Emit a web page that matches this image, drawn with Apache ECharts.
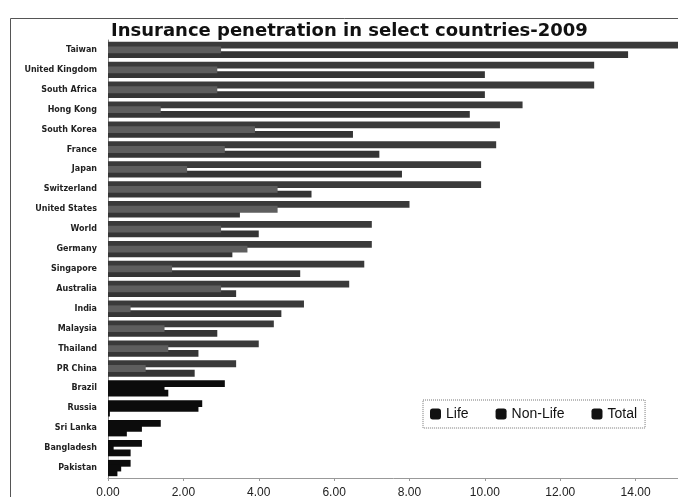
<!DOCTYPE html>
<html>
<head>
<meta charset="utf-8">
<script src="https://cdn.jsdelivr.net/npm/echarts@6/dist/echarts.min.js"></script>
<style>
  html, body { margin: 0; padding: 0; background: #fff; }
  #chart { width: 678px; height: 497px; }
</style>
</head>
<body>
<div id="chart"></div>
<script>
// Insurance penetration (premiums as % of GDP), 2009
const countries = [
  'Taiwan', 'United Kingdom', 'South Africa', 'Hong Kong', 'South Korea',
  'France', 'Japan', 'Switzerland', 'United States', 'World', 'Germany',
  'Singapore', 'Australia', 'India', 'Malaysia', 'Thailand', 'PR China',
  'Brazil', 'Russia', 'Sri Lanka', 'Bangladesh', 'Pakistan'
];
const lifeValues = [
  13.8, 10.0, 10.0, 9.6, 6.5, 7.2, 7.8, 5.4, 3.5, 4.0, 3.3,
  5.1, 3.4, 4.6, 2.9, 2.4, 2.3, 1.6, 0.05, 0.5, 0.6, 0.25
];
const nonLifeValues = [
  3.0, 2.9, 2.9, 1.4, 3.9, 3.1, 2.1, 4.5, 4.5, 3.0, 3.7,
  1.7, 3.0, 0.6, 1.5, 1.6, 1.0, 1.5, 2.4, 0.9, 0.15, 0.35
];
const totalValues = [
  16.8, 12.9, 12.9, 11.0, 10.4, 10.3, 9.9, 9.9, 8.0, 7.0, 7.0,
  6.8, 6.4, 5.2, 4.4, 4.0, 3.4, 3.1, 2.5, 1.4, 0.9, 0.6
];
const xTicks = { min: 0, max: 16, interval: 2 };

// emerging markets at the foot of the list are printed darker
const darkFrom = countries.indexOf('Brazil');
function shade(base) {
  return function (p) { return p.dataIndex >= darkFrom ? '#0c0c0c' : base; };
}

const chart = echarts.init(document.getElementById('chart'), null, { renderer: 'canvas' });

const barCommon = {
  type: 'bar',
  barWidth: 6.8,
  barGap: '-30%',
  clip: true,
  animation: false
};

chart.setOption({
  backgroundColor: '#ffffff',
  animation: false,
  title: {
    text: 'Insurance penetration in select countries-2009',
    left: 106,
    top: 17,
    textStyle: {
      fontFamily: 'DejaVu Sans',
      fontWeight: 'bold',
      fontSize: 18,
      color: '#111'
    }
  },
  graphic: [{
    type: 'rect',
    shape: { x: 10.5, y: 18.5, width: 720, height: 520 },
    style: { fill: 'none', stroke: '#555', lineWidth: 1 },
    silent: true,
    z: 0
  }],
  legend: {
    data: ['Life', 'Non-Life', 'Total'],
    left: 423,
    top: 400,
    orient: 'horizontal',
    padding: [7, 8, 7, 7],
    borderColor: '#777',
    borderWidth: 1,
    borderType: 'dotted',
    itemWidth: 11,
    itemHeight: 11,
    itemGap: 27,
    icon: 'roundRect',
    itemStyle: { color: '#111' },
    textStyle: {
      fontFamily: 'Liberation Sans',
      fontSize: 14,
      color: '#111'
    }
  },
  grid: {
    left: 108,
    right: -33,
    top: 40,
    bottom: 19,
    containLabel: false,
    outerBoundsMode: 'none'
  },
  xAxis: {
    type: 'value',
    min: xTicks.min,
    max: xTicks.max,
    interval: xTicks.interval,
    splitLine: { show: false },
    axisLine: { show: true, lineStyle: { color: '#999', width: 1 } },
    axisTick: { show: true, length: 3, lineStyle: { color: '#999' } },
    axisLabel: {
      margin: 9,
      fontFamily: 'Liberation Sans',
      fontSize: 12,
      color: '#222',
      formatter: function (v) { return v.toFixed(2); }
    }
  },
  yAxis: {
    type: 'category',
    data: countries,
    inverse: true,
    axisLine: { show: true, lineStyle: { color: '#888', width: 1 } },
    axisTick: { show: false },
    axisLabel: {
      margin: 11,
      fontFamily: 'DejaVu Sans',
      fontWeight: 'bold',
      fontSize: 8,
      color: '#222'
    }
  },
  series: [
    Object.assign({}, barCommon, {
      name: 'Total',
      data: totalValues,
      z: 2,
      itemStyle: { color: shade('#3a3a3a') }
    }),
    Object.assign({}, barCommon, {
      name: 'Non-Life',
      data: nonLifeValues,
      z: 4,
      itemStyle: { color: shade('#5e5e5e') }
    }),
    Object.assign({}, barCommon, {
      name: 'Life',
      data: lifeValues,
      z: 3,
      itemStyle: { color: shade('#353535') }
    })
  ]
});
</script>
</body>
</html>
